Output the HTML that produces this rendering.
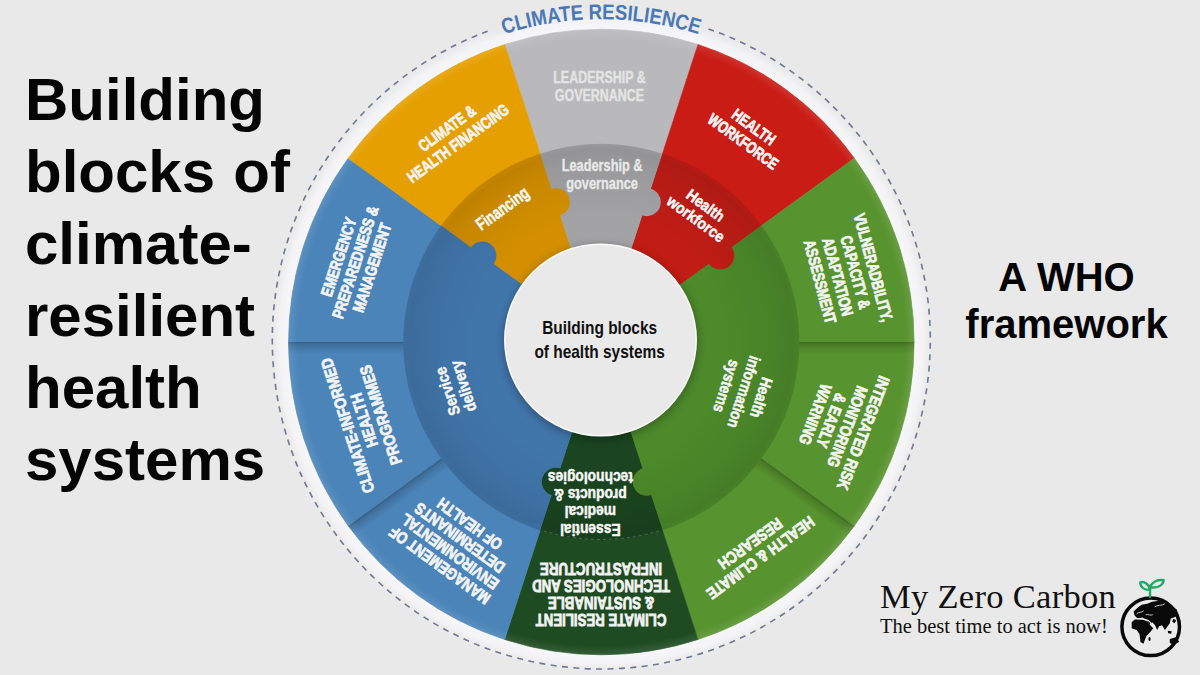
<!DOCTYPE html>
<html><head><meta charset="utf-8"><style>
html,body{margin:0;padding:0;background:#e9e9e9;}
body{width:1200px;height:675px;position:relative;overflow:hidden;font-family:"Liberation Sans",sans-serif;}
.title{position:absolute;left:25px;top:64px;word-spacing:1.5px;font-weight:bold;font-size:60px;line-height:72px;color:#050505;}
.who{position:absolute;left:940px;top:253.5px;width:253px;text-align:center;font-weight:bold;font-size:40px;line-height:47px;color:#050505;}
.logo1{position:absolute;left:880px;top:576px;font-family:"Liberation Serif",serif;font-size:34.5px;line-height:40px;letter-spacing:0.3px;color:#111;}
.logo2{position:absolute;left:880px;top:614px;font-family:"Liberation Serif",serif;font-size:20.5px;line-height:24px;color:#111;}
</style></head><body>
<svg width="1200" height="675" viewBox="0 0 1200 675" style="position:absolute;left:0;top:0"><defs><radialGradient id="midshade" cx="601.3" cy="342.0" r="198.0" gradientUnits="userSpaceOnUse"><stop offset="0.62" stop-color="#000" stop-opacity="0"/><stop offset="0.88" stop-color="#000" stop-opacity="0.055"/><stop offset="0.97" stop-color="#000" stop-opacity="0.095"/><stop offset="1" stop-color="#000" stop-opacity="0.07"/></radialGradient><radialGradient id="rim" cx="601.3" cy="342.0" r="332.8" gradientUnits="userSpaceOnUse"><stop offset="0.9399" stop-color="#f7f7f9" stop-opacity="1"/><stop offset="0.9669" stop-color="#f3f3f5" stop-opacity="1"/><stop offset="1" stop-color="#e9e9e9" stop-opacity="0"/></radialGradient><filter id="blur1" x="-10%" y="-10%" width="120%" height="120%"><feGaussianBlur stdDeviation="1.2"/></filter><radialGradient id="edgehl" cx="601.3" cy="342.0" r="312.8" gradientUnits="userSpaceOnUse"><stop offset="0.9712" stop-color="#fff" stop-opacity="0"/><stop offset="1" stop-color="#fff" stop-opacity="0.10"/></radialGradient><clipPath id="outclip"><circle cx="601.3" cy="342.0" r="312.8"/></clipPath></defs><rect width="1200" height="675" fill="#e9e9e9"/><circle cx="601.3" cy="342.0" r="332.8" fill="url(#rim)"/><path d="M708.41,28.92 A329.0,329.0 0 1 1 488.78,30.84" fill="none" stroke="#6e7896" stroke-width="1.6" stroke-dasharray="6 5.4"/><path d="M601.30,342.00 L504.64,44.51 A312.8,312.8 0 0 1 697.96,44.51 Z" fill="#b9b9bb" stroke="#b9b9bb" stroke-width="0.6"/><path d="M601.30,342.00 L697.96,44.51 A312.8,312.8 0 0 1 854.36,158.14 Z" fill="#c91c15" stroke="#c91c15" stroke-width="0.6"/><path d="M601.30,342.00 L854.36,158.14 A312.8,312.8 0 0 1 914.10,342.00 Z" fill="#57932e" stroke="#57932e" stroke-width="0.6"/><path d="M601.30,342.00 L914.10,342.00 A312.8,312.8 0 0 1 854.36,525.86 Z" fill="#57932e" stroke="#57932e" stroke-width="0.6"/><path d="M601.30,342.00 L854.36,525.86 A312.8,312.8 0 0 1 697.96,639.49 Z" fill="#57932e" stroke="#57932e" stroke-width="0.6"/><path d="M601.30,342.00 L697.96,639.49 A312.8,312.8 0 0 1 504.64,639.49 Z" fill="#1e4b22" stroke="#1e4b22" stroke-width="0.6"/><path d="M601.30,342.00 L504.64,639.49 A312.8,312.8 0 0 1 348.24,525.86 Z" fill="#4a84b9" stroke="#4a84b9" stroke-width="0.6"/><path d="M601.30,342.00 L348.24,525.86 A312.8,312.8 0 0 1 288.50,342.00 Z" fill="#4a84b9" stroke="#4a84b9" stroke-width="0.6"/><path d="M601.30,342.00 L288.50,342.00 A312.8,312.8 0 0 1 348.24,158.14 Z" fill="#4a84b9" stroke="#4a84b9" stroke-width="0.6"/><path d="M601.30,342.00 L348.24,158.14 A312.8,312.8 0 0 1 504.64,44.51 Z" fill="#e69f00" stroke="#e69f00" stroke-width="0.6"/><linearGradient id="dsh0" gradientUnits="userSpaceOnUse" x1="794.30" y1="342.00" x2="794.30" y2="354.00"><stop offset="0" stop-color="#000" stop-opacity="0.28"/><stop offset="0.25" stop-color="#000" stop-opacity="0.15"/><stop offset="1" stop-color="#000" stop-opacity="0"/></linearGradient><path clip-path="url(#outclip)" d="M794.30,342.00 L919.10,342.00 L919.10,354.00 L794.30,354.00 Z" fill="url(#dsh0)"/><linearGradient id="dsh36" gradientUnits="userSpaceOnUse" x1="757.44" y1="455.44" x2="750.39" y2="465.15"><stop offset="0" stop-color="#000" stop-opacity="0.28"/><stop offset="0.25" stop-color="#000" stop-opacity="0.15"/><stop offset="1" stop-color="#000" stop-opacity="0"/></linearGradient><path clip-path="url(#outclip)" d="M757.44,455.44 L858.41,528.80 L851.35,538.51 L750.39,465.15 Z" fill="url(#dsh36)"/><linearGradient id="dsh144" gradientUnits="userSpaceOnUse" x1="445.16" y1="455.44" x2="452.21" y2="465.15"><stop offset="0" stop-color="#000" stop-opacity="0.28"/><stop offset="0.25" stop-color="#000" stop-opacity="0.15"/><stop offset="1" stop-color="#000" stop-opacity="0"/></linearGradient><path clip-path="url(#outclip)" d="M445.16,455.44 L344.19,528.80 L351.25,538.51 L452.21,465.15 Z" fill="url(#dsh144)"/><linearGradient id="dsh180" gradientUnits="userSpaceOnUse" x1="408.30" y1="342.00" x2="408.30" y2="354.00"><stop offset="0" stop-color="#000" stop-opacity="0.28"/><stop offset="0.25" stop-color="#000" stop-opacity="0.15"/><stop offset="1" stop-color="#000" stop-opacity="0"/></linearGradient><path clip-path="url(#outclip)" d="M408.30,342.00 L283.50,342.00 L283.50,354.00 L408.30,354.00 Z" fill="url(#dsh180)"/><circle cx="601.3" cy="342.0" r="312.8" fill="url(#edgehl)"/><path d="M601.30,342.00 L441.11,225.62 A198.0,198.0 0 0 1 540.11,153.69 Z" fill="#d38f00"/><path d="M601.30,342.00 L540.11,153.69 A198.0,198.0 0 0 1 662.49,153.69 Z" fill="#a3a3a5"/><path d="M601.30,342.00 L662.49,153.69 A198.0,198.0 0 0 1 761.49,225.62 Z" fill="#c01d15"/><path d="M601.30,342.00 L761.49,225.62 A198.0,198.0 0 0 1 662.49,530.31 Z" fill="#4c8a2a"/><path d="M601.30,342.00 L662.49,530.31 A198.0,198.0 0 0 1 540.11,530.31 Z" fill="#1a4520"/><path d="M601.30,342.00 L540.11,530.31 A198.0,198.0 0 0 1 441.11,225.62 Z" fill="#4176ab"/><circle cx="482.37" cy="255.60" r="14" fill="#4176ab"/><circle cx="555.87" cy="202.19" r="14" fill="#d38f00"/><circle cx="646.73" cy="202.19" r="14" fill="#a3a3a5"/><circle cx="720.23" cy="255.60" r="14" fill="#c01d15"/><circle cx="646.73" cy="481.81" r="14" fill="#4c8a2a"/><circle cx="555.87" cy="481.81" r="14" fill="#1a4520"/><circle cx="601.3" cy="342.0" r="198.0" fill="url(#midshade)"/><path d="M659.04,530.87 A197.5,197.5 0 0 1 543.56,530.87" fill="none" stroke="#fff" stroke-opacity="0.22" stroke-width="1" stroke-dasharray="3 3"/><filter id="csh" x="-30%" y="-30%" width="160%" height="160%"><feGaussianBlur stdDeviation="5"/></filter><circle cx="600.5" cy="342.5" r="97" fill="#000" opacity="0.30" filter="url(#csh)"/><circle cx="600.5" cy="340" r="96.5" fill="#fbfbfb"/><circle cx="600.5" cy="340" r="95" fill="#e9e9e9"/><g id="b1" class="tb" transform="translate(599.50,86.07) rotate(0) scale(0.7644,1)" fill="#e4e4e4" font-family="Liberation Sans" font-weight="bold" font-size="16.3" text-anchor="middle" stroke="#e4e4e4" stroke-width="0.4"><text x="0" y="-3.44">LEADERSHIP &amp;</text><text x="0" y="14.66">GOVERNANCE</text></g><g id="b2" class="tb" transform="translate(748.45,134.25) rotate(36) scale(0.7597,1)" fill="#f3f3f3" font-family="Liberation Sans" font-weight="bold" font-size="16.3" text-anchor="middle" stroke="#f3f3f3" stroke-width="0.8"><text x="0" y="-3.39">HEALTH</text><text x="0" y="14.61">WORKFORCE</text></g><g id="b3" class="tb" transform="translate(846.62,274.60) rotate(75) scale(0.7662,1)" fill="#f3f3f3" font-family="Liberation Sans" font-weight="bold" font-size="16.3" text-anchor="middle" stroke="#f3f3f3" stroke-width="0.8"><text x="0" y="-21.91">VULNERADBILITY,</text><text x="0" y="-3.56">CAPACITY &amp;</text><text x="0" y="14.78">ADAPTATION</text><text x="0" y="33.12">ASSESSMENT</text></g><g id="b4" class="tb" transform="translate(839.27,423.65) rotate(111) scale(0.8097,1)" fill="#f3f3f3" font-family="Liberation Sans" font-weight="bold" font-size="16.3" text-anchor="middle" stroke="#f3f3f3" stroke-width="0.8"><text x="0" y="-20.17">INTEGRATED RISK</text><text x="0" y="-2.99">MONITORING</text><text x="0" y="14.20">&amp; EARLY</text><text x="0" y="31.39">WARNING</text></g><g id="b5" class="tb" transform="translate(755.49,550.60) rotate(144) scale(0.8201,1)" fill="#f3f3f3" font-family="Liberation Sans" font-weight="bold" font-size="16.3" text-anchor="middle" stroke="#f3f3f3" stroke-width="0.8"><text x="0" y="-3.14">HEALTH &amp; CLIMATE</text><text x="0" y="14.36">RESEARCH</text></g><g id="b6" class="tb" transform="translate(601.05,594.55) rotate(180) scale(0.8131,1)" fill="#f3f3f3" font-family="Liberation Sans" font-weight="bold" font-size="16.3" text-anchor="middle" stroke="#f3f3f3" stroke-width="0.8"><text x="0" y="-19.89">CLIMATE RESILIENT</text><text x="0" y="-2.89">&amp; SUSTAINABLE</text><text x="0" y="14.11">TECHNOLOGIES AND</text><text x="0" y="31.11">INFRASTRUCTURE</text></g><g id="b7" class="tb" transform="translate(454.76,544.65) rotate(216) scale(0.8269,1)" fill="#f3f3f3" font-family="Liberation Sans" font-weight="bold" font-size="16.3" text-anchor="middle" stroke="#f3f3f3" stroke-width="0.8"><text x="0" y="-19.89">MANAGEMENT OF</text><text x="0" y="-2.89">ENVIRONMENTAL</text><text x="0" y="14.11">DETERMINANTS</text><text x="0" y="31.11">OF HEALTH</text></g><g id="b8" class="tb" transform="translate(364.23,420.25) rotate(252) scale(0.8611,1)" fill="#f3f3f3" font-family="Liberation Sans" font-weight="bold" font-size="16.3" text-anchor="middle" stroke="#f3f3f3" stroke-width="0.8"><text x="0" y="-11.89">CLIMATE-INFORMED</text><text x="0" y="5.61">HEALTH</text><text x="0" y="23.11">PROGRAMMES</text></g><g id="b9" class="tb" transform="translate(355.33,262.30) rotate(288) scale(0.7822,1)" fill="#f3f3f3" font-family="Liberation Sans" font-weight="bold" font-size="16.3" text-anchor="middle" stroke="#f3f3f3" stroke-width="0.8"><text x="0" y="-11.89">EMERGENCY</text><text x="0" y="5.61">PREPAREDNESS &amp;</text><text x="0" y="23.11">MANAGEMENT</text></g><g id="b10" class="tb" transform="translate(452.51,135.80) rotate(324) scale(0.7587,1)" fill="#f3f3f3" font-family="Liberation Sans" font-weight="bold" font-size="16.3" text-anchor="middle" stroke="#f3f3f3" stroke-width="0.8"><text x="0" y="-3.64">CLIMATE &amp;</text><text x="0" y="14.86">HEALTH FINANCING</text></g><g id="b11" class="tb" transform="translate(502.32,208.41) rotate(-36) scale(0.7344,1)" fill="#f7f7f7" font-family="Liberation Sans" font-weight="bold" font-size="17.5" text-anchor="middle" stroke="#f7f7f7" stroke-width="0.5"><text x="0" y="6.02">Financing</text></g><g id="b12" class="tb" transform="translate(602.10,174.15) rotate(0) scale(0.7992,1)" fill="#e9e9e9" font-family="Liberation Sans" font-weight="bold" font-size="16" text-anchor="middle" stroke="#e9e9e9" stroke-width="0.3"><text x="0" y="-3.45">Leadership &amp;</text><text x="0" y="14.45">governance</text></g><g id="b13" class="tb" transform="translate(700.74,212.15) rotate(36) scale(0.8801,1)" fill="#f7f7f7" font-family="Liberation Sans" font-weight="bold" font-size="16" text-anchor="middle" stroke="#f7f7f7" stroke-width="0.5"><text x="0" y="-2.75">Health</text><text x="0" y="13.75">workforce</text></g><g id="b14" class="tb" transform="translate(743.95,391.95) rotate(108) scale(0.8507,1)" fill="#f7f7f7" font-family="Liberation Sans" font-weight="bold" font-size="16" text-anchor="middle" stroke="#f7f7f7" stroke-width="0.5"><text x="0" y="-12.89">Health</text><text x="0" y="5.50">information</text><text x="0" y="23.90">systems</text></g><g id="b15" class="tb" transform="translate(590.35,503.15) rotate(180) scale(0.8630,1)" fill="#f7f7f7" font-family="Liberation Sans" font-weight="bold" font-size="16" text-anchor="middle" stroke="#f7f7f7" stroke-width="0.5"><text x="0" y="-20.60">Essential</text><text x="0" y="-3.20">medical</text><text x="0" y="14.20">products &amp;</text><text x="0" y="31.60">technologies</text></g><g id="b16" class="tb" transform="translate(455.39,388.70) rotate(252) scale(0.8707,1)" fill="#f7f7f7" font-family="Liberation Sans" font-weight="bold" font-size="16" text-anchor="middle" stroke="#f7f7f7" stroke-width="0.5"><text x="0" y="-2.79">Service</text><text x="0" y="13.80">delivery</text></g><g id="b17" class="tb" transform="translate(599.60,339.62) rotate(0) scale(0.8350,1)" fill="#111" font-family="Liberation Sans" font-weight="bold" font-size="18.5" text-anchor="middle"><text x="0" y="-5.19">Building blocks</text><text x="0" y="17.91">of health systems</text></g><path id="arcp" d="M323.52,179.63 A320.75,320.75 0 0 1 879.08,179.63" fill="none"/><text id="arct" font-family="Liberation Sans" font-weight="bold" font-size="21.5" fill="#4a78b6" text-anchor="middle"><textPath href="#arcp" startOffset="50%" textLength="198" lengthAdjust="spacingAndGlyphs">CLIMATE RESILIENCE</textPath></text><g transform="translate(1150.7,626.8)"><circle r="28.8" fill="#ebebeb" stroke="#0a0a0a" stroke-width="3.5"/><path fill="#0a0a0a" d="M-17.1,-15.2 L-13.1,-19.1 L-9.2,-22.1 L-3.4,-23 L1.5,-25 L8.4,-26 L14.2,-24 L21.1,-21.1 L26,-17.2 L27.9,-11.3 L23,-9.4 L20.1,-8.4 L19.1,-3.5 L16.2,0.4 L14.2,3.3 L11.3,-1.5 L8.4,-0.6 L6.4,3.3 L4.4,-1.5 L1.5,-4.5 L-1.4,-2.5 L-3.4,-6.4 L-8.3,-9.4 L-13.1,-8.4 L-16.1,-11.3 Z"/><path fill="#0a0a0a" d="M-19,-4.5 L-16.1,-7.4 L-8.3,-7.4 L-3.4,-5.5 L-0.4,-1.5 L2.5,1.4 L-0.4,5.3 L-4.3,9.2 L-7.3,17 L-10.2,15.1 L-11.2,7.3 L-14.1,3.3 L-19,1.4 Z"/><ellipse cx="-1.2" cy="12.2" rx="1.1" ry="2.1" fill="#0a0a0a"/><path d="M-17,-8.2 C-13,-8.8 -9,-7.6 -5,-7.2 C-3,-7 -1.5,-6 -0.5,-4.5 L1.8,-0.5" fill="none" stroke="#ebebeb" stroke-width="1.1"/><path d="M-14,-13 C-12,-15 -9,-14 -7,-16 M-5,-12 C-3,-13 0,-11 2,-12 M4,-20 C7,-22 11,-21 14,-23" fill="none" stroke="#ebebeb" stroke-width="0.8"/><path fill="#0a0a0a" d="M22.5,-8 L25.5,-6.5 L24,-3.5 L21.5,-5 Z M17,4 L21,4.5 L20.5,7 L17.5,6.5 Z M19.1,12.1 L26,10.2 L28.4,15.1 L23,18 L19.1,16.1 Z"/><g fill="none" stroke="#1faa62" stroke-width="2.4" stroke-linejoin="round" stroke-linecap="round"><path d="M-0.7,-30 L-0.7,-41"/><path d="M-0.7,-37 C-2,-43 -6,-45.5 -10.5,-44.5 C-10.5,-39.5 -6,-36.5 -0.7,-37 Z"/><path d="M-0.7,-39.5 C1.5,-45 7,-47.5 13,-46.5 C12,-41 6.5,-38.5 -0.7,-39.5 Z"/></g></g></svg>
<div class="title">Building<br>blocks of<br>climate-<br>resilient<br>health<br>systems</div>
<div class="who">A WHO<br>framework</div>
<div class="logo1">My Zero Carbon</div>
<div class="logo2">The best time to act is now!</div>
</body></html>
